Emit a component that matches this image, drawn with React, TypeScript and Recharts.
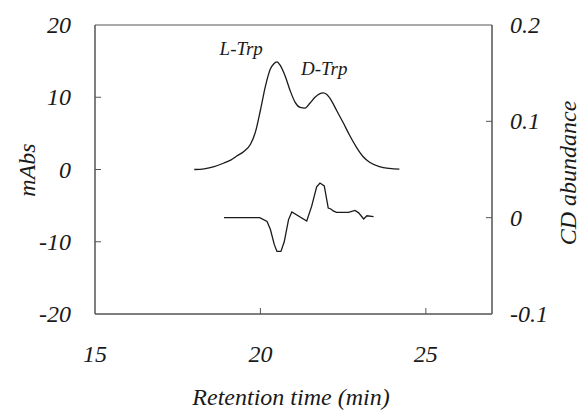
import { LineChart, Line, XAxis, YAxis, ReferenceDot, ReferenceArea } from "recharts";

// UV trace (left axis, mAbs)
const uvTime = [18.0, 18.3, 18.6, 18.9, 19.1, 19.3, 19.5, 19.7, 19.85, 20.0, 20.15, 20.3, 20.4, 20.5, 20.6, 20.75, 20.9, 21.05, 21.2, 21.35, 21.5, 21.65, 21.8, 21.9, 22.0, 22.15, 22.3, 22.5, 22.7, 22.9, 23.1, 23.3, 23.6, 23.9, 24.2];
const uvAbs = [0, 0.1, 0.4, 0.9, 1.3, 1.9, 2.5, 3.5, 5.2, 8.2, 11.5, 13.9, 14.6, 14.9, 14.4, 12.9, 10.9, 9.3, 8.6, 8.5, 9.2, 10.0, 10.5, 10.6, 10.4, 9.5, 8.2, 6.5, 4.7, 3.1, 1.8, 1.0, 0.4, 0.15, 0.05];

// CD trace (right axis)
const cdTime = [18.9, 19.5, 19.98, 20.2, 20.3, 20.42, 20.5, 20.62, 20.72, 20.85, 20.95, 21.4, 21.55, 21.7, 21.8, 21.93, 22.05, 22.13, 22.2, 22.3, 22.66, 22.86, 22.97, 23.12, 23.22, 23.42];
const cdVal = [0, 0, 0, -0.004, -0.012, -0.028, -0.035, -0.035, -0.025, -0.002, 0.006, -0.0035, 0.012, 0.032, 0.036, 0.033, 0.01, 0.009, 0.007, 0.0055, 0.0055, 0.0075, 0.005, -0.0013, 0.002, 0.001];

const xTicks = [15, 20, 25];
const leftTicks = [-20, -10, 0, 10, 20];
const rightTicks = [-0.1, 0, 0.1, 0.2];

const uvData = uvTime.map((t, i) => ({ t, v: uvAbs[i] }));
const cdData = cdTime.map((t, i) => ({ t, v: cdVal[i] }));

const font = "Liberation Serif";
const ink = "#1a1a1a";
const frame = "#555";

const textStyle = { fontFamily: font, fontStyle: "italic" as const };

function BottomTick({ x, y, payload }: any) {
  const inner = payload.value !== 15;
  return (
    <g>
      {inner && <line x1={x} y1={y} x2={x} y2={y - 6} stroke={frame} />}
      <text x={x} y={y + 48} textAnchor="middle" style={textStyle} fontSize={24} fill={ink}>
        {payload.value}
      </text>
    </g>
  );
}

function LeftTick({ x, y, payload }: any) {
  const inner = payload.value !== 20 && payload.value !== -20;
  return (
    <g>
      {inner && <line x1={x} y1={y} x2={x + 6} y2={y} stroke={frame} />}
      <text x={x - 24} y={y + 8} textAnchor="end" style={textStyle} fontSize={24} fill={ink}>
        {payload.value}
      </text>
    </g>
  );
}

function RightTick({ x, y, payload }: any) {
  const inner = payload.value !== 0.2 && payload.value !== -0.1;
  return (
    <g>
      {inner && <line x1={x} y1={y} x2={x - 6} y2={y} stroke={frame} />}
      <text x={x + 18} y={y + 8} textAnchor="start" style={textStyle} fontSize={24} fill={ink}>
        {payload.value}
      </text>
    </g>
  );
}

export default function App() {
  return (
    <div style={{ position: "absolute", left: 0, top: 0, background: "#fff" }}>
      <LineChart width={582} height={416} margin={{ top: 25, right: 0, left: 0, bottom: 0 }}>
        <XAxis
          xAxisId="bottom"
          dataKey="t"
          type="number"
          domain={[15, 27]}
          ticks={xTicks}
          tickSize={0}
          tickMargin={0}
          tickLine={false}
          tick={<BottomTick />}
          axisLine={{ stroke: frame }}
          height={102}
          allowDuplicatedCategory={false}
        />
        <YAxis
          yAxisId="left"
          domain={[-20, 20]}
          ticks={leftTicks}
          tickSize={0}
          tickMargin={0}
          tickLine={false}
          tick={<LeftTick />}
          axisLine={{ stroke: frame }}
          width={95}
        />
        <YAxis
          yAxisId="right"
          orientation="right"
          domain={[-0.1, 0.2]}
          ticks={rightTicks}
          tickSize={0}
          tickMargin={0}
          tickLine={false}
          tick={<RightTick />}
          axisLine={{ stroke: frame }}
          width={90}
        />
        <ReferenceArea
          xAxisId="bottom"
          yAxisId="left"
          x1={15}
          x2={27}
          y1={-20}
          y2={20}
          fill="none"
          fillOpacity={0}
          stroke={frame}
          strokeWidth={1}
        />
        <Line
          data={uvData}
          xAxisId="bottom"
          yAxisId="left"
          dataKey="v"
          type="monotone"
          stroke={ink}
          strokeWidth={1.3}
          dot={false}
          isAnimationActive={false}
        />
        <Line
          data={cdData}
          xAxisId="bottom"
          yAxisId="right"
          dataKey="v"
          type="linear"
          stroke={ink}
          strokeWidth={1.3}
          dot={false}
          isAnimationActive={false}
        />
        <ReferenceDot
          xAxisId="bottom"
          yAxisId="left"
          x={19.42}
          y={16.8}
          r={0}
          label={{ value: "L-Trp", fontFamily: font, fontStyle: "italic", fontSize: 19, fill: ink, position: "center" }}
        />
        <ReferenceDot
          xAxisId="bottom"
          yAxisId="left"
          x={21.93}
          y={14.0}
          r={0}
          label={{ value: "D-Trp", fontFamily: font, fontStyle: "italic", fontSize: 19, fill: ink, position: "center" }}
        />
      </LineChart>
      <svg width={582} height={416} style={{ position: "absolute", left: 0, top: 0, pointerEvents: "none" }}>
        <text x={291} y={405} textAnchor="middle" style={textStyle} fontSize={24} fill={ink}>
          Retention time (min)
        </text>
        <text x={35} y={170} transform="rotate(-90 35 170)" textAnchor="middle" style={textStyle} fontSize={24} fill={ink}>
          mAbs
        </text>
        <text x={576} y={173} transform="rotate(-90 576 173)" textAnchor="middle" style={textStyle} fontSize={24} fill={ink}>
          CD abundance
        </text>
      </svg>
    </div>
  );
}
